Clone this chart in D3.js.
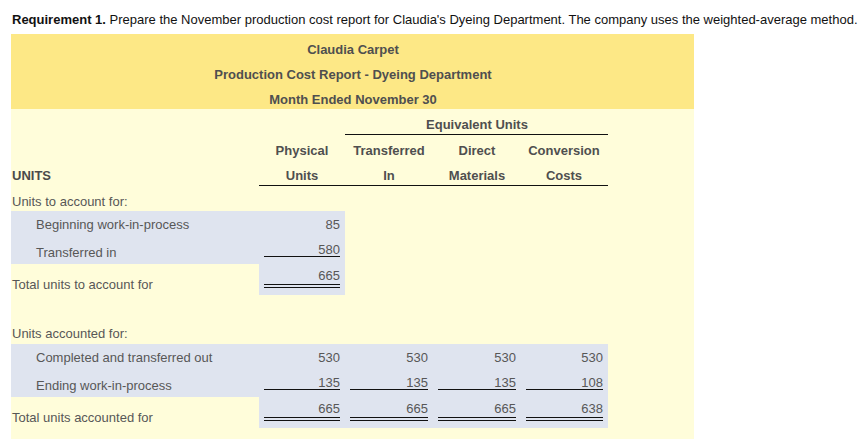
<!DOCTYPE html>
<html><head><meta charset="utf-8">
<script src="https://cdn.jsdelivr.net/npm/d3@7"></script>
<style>
html,body{margin:0;padding:0;background:#fff;}
svg{display:block;font-family:Arial,"Liberation Sans",sans-serif;}
</style></head>
<body><svg id="c" width="858" height="439"></svg>
<script>
// ---- data ----
const titleBold = "Requirement 1.";
const titleRest = " Prepare the November production cost report for Claudia's Dyeing Department. The company uses the weighted-average method.";
const headerLines = ["Claudia Carpet", "Production Cost Report - Dyeing Department", "Month Ended November 30"];
const groupLabel = "Equivalent Units";
const columnsTop = ["Physical", "Transferred", "Direct", "Conversion"];
const columnsBottom = ["Units", "In", "Materials", "Costs"];
const sectionLabel = "UNITS";
const section1Title = "Units to account for:";
const section1Rows = ["Beginning work-in-process", "Transferred in"];
const section1Values = [[85], [580]];
const section1TotalLabel = "Total units to account for";
const section1Total = [665];
const section2Title = "Units accounted for:";
const section2Rows = ["Completed and transferred out", "Ending work-in-process"];
const section2Values = [[530, 530, 530, 530], [135, 135, 135, 108]];
const section2TotalLabel = "Total units accounted for";
const section2Total = [665, 665, 665, 638];

// ---- layout ----
const svg = d3.select("#c");
const colRight = d3.scaleOrdinal().domain([0,1,2,3]).range([340, 428, 516, 603]);
const colCenter = d3.scaleOrdinal().domain([0,1,2,3]).range([302, 389, 477, 564]);
const colLeft = d3.scaleOrdinal().domain([0,1,2,3]).range([264, 350, 438, 526]);
const tableL = 11, tableR = 694;
const grey = "#575757", hdrCol = "#4f4f4f";
const fs = 13;

// title
const t = svg.append("text").attr("x", 12).attr("y", 24).attr("font-size", 13).attr("fill", "#111");
t.append("tspan").attr("font-weight", "bold").text(titleBold);
t.append("tspan").text(titleRest);
const tb = t.node().getBBox();
svg.append("circle").attr("cx", tb.x + tb.width + 10).attr("cy", 20).attr("r", 6).attr("fill", "#f4c15a");

// backgrounds
svg.append("rect").attr("x", tableL).attr("y", 34).attr("width", tableR - tableL).attr("height", 75).attr("fill", "#fde886");
svg.append("rect").attr("x", tableL).attr("y", 109).attr("width", tableR - tableL).attr("height", 330).attr("fill", "#fffdda");

// header lines
const hy = d3.scalePoint().domain(d3.range(headerLines.length)).range([54, 104]);
svg.selectAll(".hl").data(headerLines).join("text")
  .attr("x", 353).attr("y", (d, i) => hy(i)).attr("text-anchor", "middle")
  .attr("font-size", fs).attr("font-weight", "bold").attr("fill", hdrCol).text(d => d);

// column headers
svg.append("text").attr("x", 477).attr("y", 129).attr("text-anchor", "middle")
  .attr("font-size", fs).attr("font-weight", "bold").attr("fill", hdrCol).text(groupLabel);
svg.append("line").attr("x1", 345).attr("x2", 608).attr("y1", 134.5).attr("y2", 134.5).attr("stroke", "#111");
svg.selectAll(".ct").data(columnsTop).join("text")
  .attr("x", (d, i) => colCenter(i)).attr("y", 155).attr("text-anchor", "middle")
  .attr("font-size", fs).attr("font-weight", "bold").attr("fill", hdrCol).text(d => d);
svg.selectAll(".cb").data(columnsBottom).join("text")
  .attr("x", (d, i) => colCenter(i)).attr("y", 180).attr("text-anchor", "middle")
  .attr("font-size", fs).attr("font-weight", "bold").attr("fill", hdrCol).text(d => d);
svg.append("line").attr("x1", 259).attr("x2", 608).attr("y1", 185.5).attr("y2", 185.5).attr("stroke", "#111");
svg.append("text").attr("x", 12).attr("y", 180).attr("font-size", fs).attr("font-weight", "bold").attr("fill", "#4a4a4a").text(sectionLabel);

const blue = "#dfe4ef";
function section(titleText, titleY, rows, vals, totalLabel, totals, bandTop) {
  const ncol = totals.length;
  const bandRight = colRight(ncol - 1) + 5;
  svg.append("text").attr("x", 12).attr("y", titleY).attr("font-size", fs).attr("fill", grey).text(titleText);
  // detail band
  svg.append("rect").attr("x", tableL).attr("y", bandTop).attr("width", bandRight - tableL).attr("height", 53).attr("fill", blue);
  svg.append("rect").attr("x", 259).attr("y", bandTop + 53).attr("width", bandRight - 259).attr("height", 31).attr("fill", blue);
  const ry = d3.scalePoint().domain(d3.range(rows.length)).range([bandTop + 18, bandTop + 46]);
  svg.selectAll(null).data(rows).join("text")
    .attr("x", 36).attr("y", (d, i) => ry(i)).attr("font-size", fs).attr("fill", grey).text(d => d);
  vals.forEach((r, i) => {
    svg.selectAll(null).data(r).join("text")
      .attr("x", (d, j) => colRight(j)).attr("y", ry(i) - (i === rows.length - 1 ? 3 : 0))
      .attr("text-anchor", "end").attr("font-size", fs).attr("fill", grey).text(d => d);
  });
  const uy = bandTop + 45.5;
  svg.selectAll(null).data(d3.range(ncol)).join("line")
    .attr("x1", j => colLeft(j)).attr("x2", j => colRight(j)).attr("y1", uy).attr("y2", uy).attr("stroke", "#111");
  // totals
  svg.append("text").attr("x", 12).attr("y", bandTop + 78).attr("font-size", fs).attr("fill", grey).text(totalLabel);
  svg.selectAll(null).data(totals).join("text")
    .attr("x", (d, j) => colRight(j)).attr("y", bandTop + 69).attr("text-anchor", "end")
    .attr("font-size", fs).attr("fill", grey).text(d => d);
  [bandTop + 73, bandTop + 76].forEach(y => {
    svg.selectAll(null).data(d3.range(ncol)).join("line")
      .attr("x1", j => colLeft(j)).attr("x2", j => colRight(j)).attr("y1", y + 0.5).attr("y2", y + 0.5).attr("stroke", "#111");
  });
}
section(section1Title, 206, section1Rows, section1Values, section1TotalLabel, section1Total, 211);
section(section2Title, 338, section2Rows, section2Values, section2TotalLabel, section2Total, 344);
</script></body></html>
